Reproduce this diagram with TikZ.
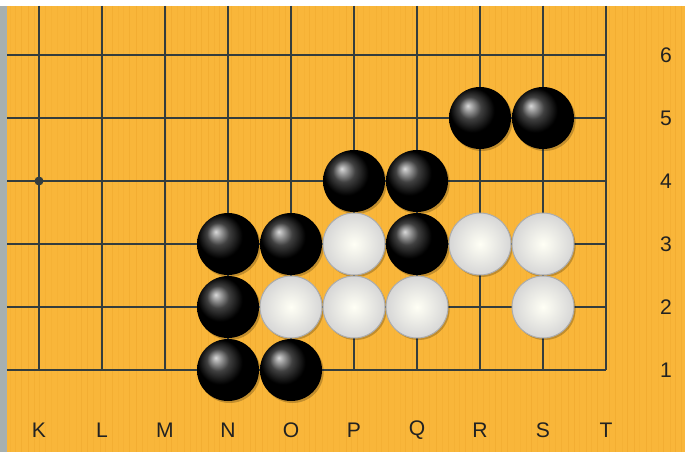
\documentclass[tikz,border=0pt]{standalone}
\usepackage{fontspec}
\setsansfont{Liberation Sans}
\definecolor{boardWood}{HTML}{F9B63A}
\definecolor{grainWood}{HTML}{EDA52A}
\definecolor{gridLine}{HTML}{343D3D}
\definecolor{edgeGray}{HTML}{A7B0B0}
\definecolor{labelInk}{HTML}{222222}
\usetikzlibrary{positioning}

\begin{document}
\begin{tikzpicture}[
                x=0.03cm, y=-0.03cm,
                gridline/.style={gridLine, line width=0.07cm},
                stone/.style={circle, inner sep=0pt, minimum size=1.86cm},
                blackstone/.style={stone, shading=ball, ball color=black},
                whitestone/.style={stone, draw=gray!65, line width=0.03cm,
                                   inner color=white!96!yellow, outer color=black!16!white},
                stoneshadow/.style={stone, fill=black, opacity=0.22},
                coordlabel/.style={font=\sffamily\fontsize{18}{18}\selectfont, text=labelInk}
            ]
                \useasboundingbox (0,0) rectangle (685,452);
                % board with edge strips
                \fill[white] (0,0) rectangle (685,452);
                \fill[edgeGray] (0,6) rectangle (7,452);
                \fill[boardWood] (7,6) rectangle (685,452);
                \pgfmathsetseed{7}
                \foreach \g in {0,...,112}{
                    \pgfmathsetmacro{\gx}{9+6*\g+2*rnd}
                    \pgfmathsetmacro{\go}{0.15+0.35*rnd}
                    \draw[grainWood, opacity=\go, line width=0.03cm] (\gx,6) -- (\gx,452);
                }

                % intersections
                \foreach \c [count=\i from 0] in {K,L,M,N,O,P,Q,R,S,T}{
                    \foreach \r in {1,...,6}{
                        \coordinate (\c\r) at ({39+63*\i},{370-63*(\r-1)});
                    }
                }

                % grid
                \foreach \r in {1,...,6}{
                    \draw[gridline] (7,0 |- K\r) -- (T\r);
                }
                \foreach \c in {K,L,M,N,O,P,Q,R,S,T}{
                    \draw[gridline] (\c1 |- 0,6) -- (\c1);
                }
                \fill[gridLine] (K4) circle (4.5);

                % coordinates
                \foreach \c in {K,L,M,N,O,P,Q,R,S,T}{
                    \node[coordlabel] (lab\c) at ([yshift=-1.8cm]\c1) {\c};
                }
                \foreach \r in {1,...,6}{
                    \node[coordlabel] (lab\r) at ([xshift=1.8cm]T\r) {\r};
                }

                % stones
                \foreach \p in {R5,S5,P4,Q4,N3,O3,Q3,N2,N1,O1,P3,R3,S3,O2,P2,Q2,S2}{
                    \node[stoneshadow] (sh\p) at ([xshift=0.05cm,yshift=-0.06cm]\p) {};
                }
                \foreach \p in {R5,S5,P4,Q4,N3,O3,Q3,N2,N1,O1}{
                    \node[blackstone] (b\p) at (\p) {};
                }
                \foreach \p in {P3,R3,S3,O2,P2,Q2,S2}{
                    \node[whitestone] (w\p) at (\p) {};
                }
            \end{tikzpicture}
\end{document}
